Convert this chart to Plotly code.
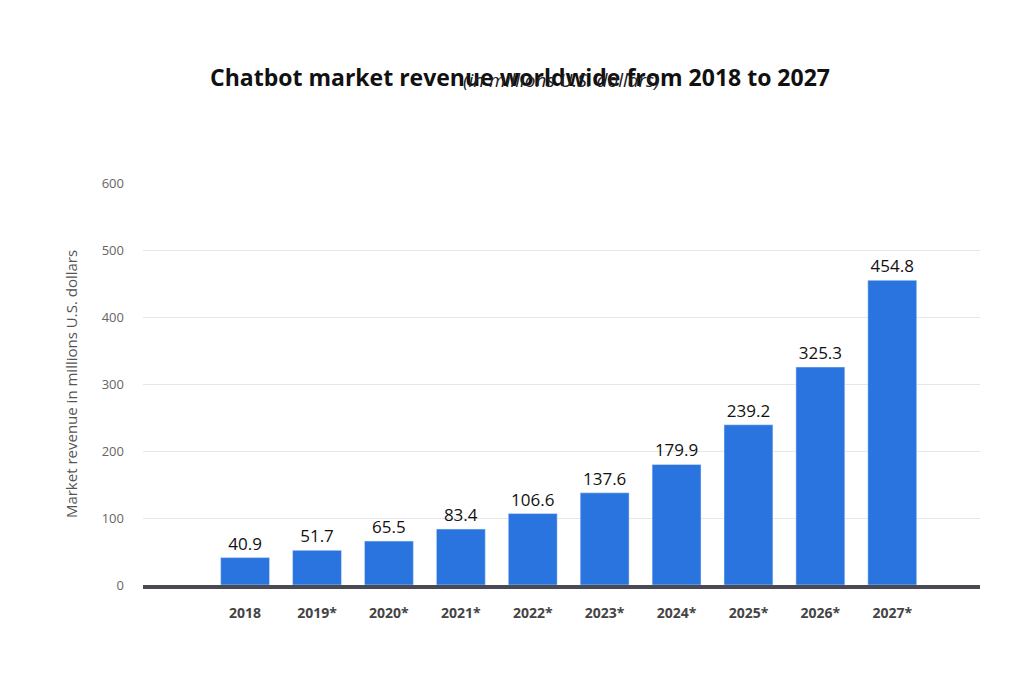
import plotly.graph_objects as go

years = ["2018", "2019*", "2020*", "2021*", "2022*", "2023*", "2024*", "2025*", "2026*", "2027*"]
revenue = [40.9, 51.7, 65.5, 83.4, 106.6, 137.6, 179.9, 239.2, 325.3, 454.8]
labels = ["40.9", "51.7", "65.5", "83.4", "106.6", "137.6", "179.9", "239.2", "325.3", "454.8"]
xpos = list(range(len(years)))

fig = go.Figure(go.Bar(
    x=xpos, y=revenue, text=labels, textposition="outside",
    textfont=dict(family="Open Sans", size=17, color="#111"),
    marker=dict(color="#2a74df"), width=0.68, cliponaxis=False,
))
fig.update_layout(
    width=1024, height=682, paper_bgcolor="white", plot_bgcolor="white",
    margin=dict(l=135, r=52, t=175, b=105), showlegend=False,
    title=dict(text="<b>Chatbot market revenue worldwide from 2018 to 2027</b>",
               x=0.5, xanchor="center", y=0.897, yanchor="middle",
               font=dict(family="Open Sans", size=23, color="#111")),
    annotations=[dict(text="<i>(in millions U.S. dollars)</i>", xref="paper", yref="paper",
                      x=0.5, y=1.0, yshift=118, showarrow=False,
                      font=dict(family="Open Sans", size=19, color="#222"))],
    xaxis=dict(range=[-1.42, 10.22], tickvals=xpos, ticktext=["<b>%s</b>" % y for y in years],
               tickfont=dict(family="Open Sans", size=14, color="#444"), showgrid=False,
               showline=True, linecolor="#4a4a55", linewidth=4, ticks="", ticklabelstandoff=12),
    yaxis=dict(range=[0, 600], tickvals=[0, 100, 200, 300, 400, 500, 600], gridcolor="#e6e6e6",
               zeroline=False, tickfont=dict(family="Open Sans", size=13, color="#666"),
               ticklabelstandoff=18,
               title=dict(text="Market revenue in millions U.S. dollars", standoff=20,
                          font=dict(family="Open Sans", size=15, color="#555"))),
)
fig.write_html("out.html")
